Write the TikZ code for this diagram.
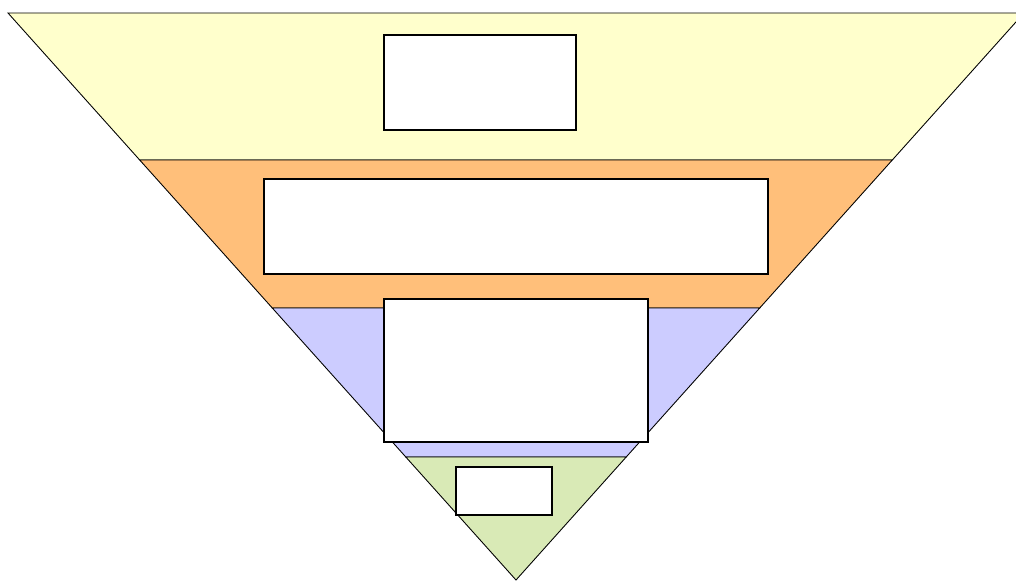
\documentclass[tikz,border=0pt]{standalone}
\definecolor{bandyel}{RGB}{255,255,204}
\definecolor{bandorg}{RGB}{255,191,122}
\definecolor{bandblu}{RGB}{204,204,255}
\definecolor{bandgrn}{RGB}{217,234,182}
\usetikzlibrary{positioning}

\begin{document}
\begin{tikzpicture}[x=0.02cm, y=-0.02cm,
  band/.style={draw=black, line width=0.5pt},
  slot/.style={draw=black, fill=white, line width=1.2pt, inner sep=0pt}]
\useasboundingbox (0,0) rectangle (1016,581);
\clip (0,0) rectangle (1016,581);

% Bands
\draw[band, fill=bandyel] (8,13) -- (1024,13) -- (892.3,160) -- (139.7,160) -- cycle;
\draw[band, fill=bandorg] (139.7,160) -- (892.3,160) -- (759.7,308) -- (272.3,308) -- cycle;
\draw[band, fill=bandblu] (272.3,308) -- (759.7,308) -- (626.2,457) -- (405.8,457) -- cycle;
\draw[band, fill=bandgrn] (405.8,457) -- (626.2,457) -- (516,580) -- cycle;

% Boxes
\node[slot, minimum width=3.84cm, minimum height=1.9cm] (s1) at (480,82.5) {};
\node[slot, minimum width=10.08cm, minimum height=1.9cm] (s2) at (516,226.5) {};
\node[slot, minimum width=5.28cm, minimum height=2.86cm] (s3) at (516,370.5) {};
\node[slot, minimum width=1.92cm, minimum height=0.96cm] (s4) at (504,491) {};
\end{tikzpicture}
\end{document}
